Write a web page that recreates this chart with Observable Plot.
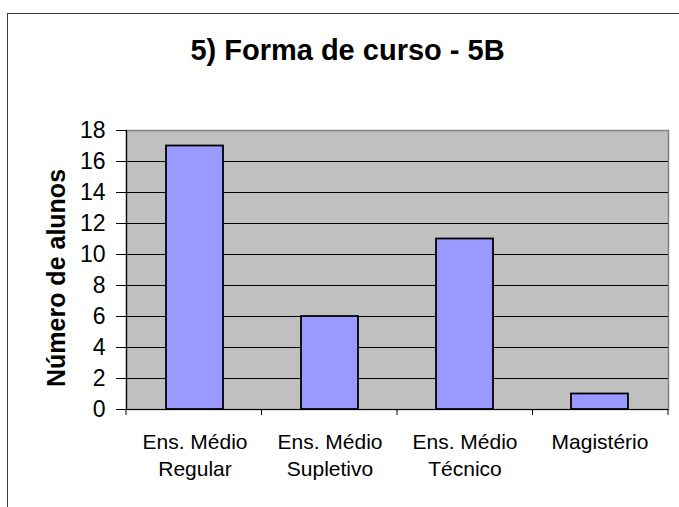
<!DOCTYPE html>
<html><head><meta charset="utf-8">
<script src="https://cdn.jsdelivr.net/npm/d3@7"></script>
<script src="https://cdn.jsdelivr.net/npm/@observablehq/plot@0.6"></script>
<style>
html,body{margin:0;padding:0;background:#fff;}
#wrap{position:relative;width:679px;height:507px;overflow:hidden;}
#border{position:absolute;left:7px;top:13px;width:720px;height:620px;border-left:1.5px solid #3a3a3a;border-top:1.5px solid #3a3a3a;}
#chart{position:absolute;left:0;top:0;}
</style></head><body>
<div id="wrap"><div id="border"></div><div id="chart"></div></div>
<script>
const title = "5) Forma de curso - 5B";
const yLabel = "Número de alunos";
const categories = ["Ens. Médio\nRegular", "Ens. Médio\nSupletivo", "Ens. Médio\nTécnico", "Magistério"];
const values = [17, 6, 11, 1];
const yTicks = [0, 2, 4, 6, 8, 10, 12, 14, 16, 18];
const gridValues = [2, 4, 6, 8, 10, 12, 14, 16];

const data = categories.map((c, i) => ({category: c, value: values[i]}));
const font = "'Liberation Sans', Arial, sans-serif";

// tick marks on category boundaries (Excel style)
const boundaryTicks = (index, scales, vals, dim) => {
  const g = d3.create("svg:g");
  const n = categories.length;
  const step = (dim.width - dim.marginLeft - dim.marginRight) / n;
  const y0 = scales.y(0);
  for (let i = 0; i <= n; i++) {
    const x = dim.marginLeft + i * step;
    g.append("line").attr("x1", x).attr("x2", x).attr("y1", y0).attr("y2", y0 + 6)
      .attr("stroke", "black").attr("stroke-width", 1);
  }
  return g.node();
};

const chart = Plot.plot({
  width: 679,
  height: 507,
  marginLeft: 126,
  marginRight: 11,
  marginTop: 130,
  marginBottom: 98,
  style: {fontFamily: font, color: "black", background: "transparent", overflow: "visible"},
  x: {domain: categories, paddingInner: 0.58, paddingOuter: 0.29, label: null},
  y: {domain: [0, 18], label: null},
  marks: [
    Plot.frame({fill: "#C0C0C0", stroke: "#808080", strokeWidth: 1.5}),
    Plot.ruleY(gridValues, {stroke: "black", strokeWidth: 1}),
    Plot.barY(data, {x: "category", y: "value", fill: "#9999FF", stroke: "black", strokeWidth: 1.8}),
    Plot.ruleY([0], {stroke: "black", strokeWidth: 1.2}),
    Plot.frame({anchor: "left", stroke: "black", strokeWidth: 1.2}),
    boundaryTicks,
    Plot.axisY({ticks: yTicks, tickSize: 10, tickFormat: () => "", label: null}),
    Plot.text(yTicks, {y: d => d, frameAnchor: "left", dx: -21, textAnchor: "end", lineAnchor: "middle", fontSize: 23, letterSpacing: 1, text: d => String(d), fill: "black"}),
    Plot.axisX({tickSize: 0, tickPadding: 20, fontSize: 21, lineHeight: 1.3, label: null}),
    Plot.text([title], {frameAnchor: "top", dx: -50, dy: -80, fontSize: 29, fontWeight: "bold", lineAnchor: "middle", fill: "black"}),
    Plot.text([yLabel], {frameAnchor: "left", dx: -70, dy: 8, rotate: -90, fontSize: 25, fontWeight: "bold", lineAnchor: "middle", textAnchor: "middle", fill: "black"})
  ]
});
document.getElementById("chart").appendChild(chart);
</script>
</body></html>
